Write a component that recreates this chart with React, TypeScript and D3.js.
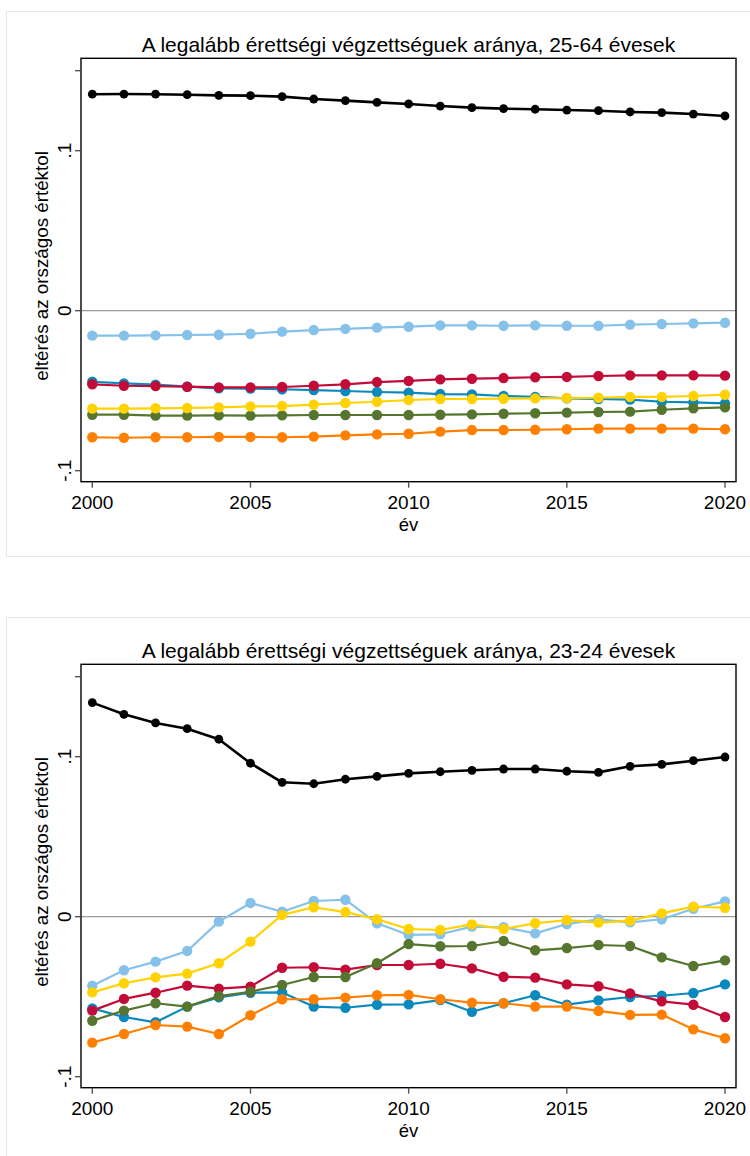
import React from 'react';
import * as d3 from 'd3';

// ---------- DATA ----------
const years = [2000, 2001, 2002, 2003, 2004, 2005, 2006, 2007, 2008, 2009, 2010, 2011, 2012, 2013, 2014, 2015, 2016, 2017, 2018, 2019, 2020];
const xTicks = [2000, 2005, 2010, 2015, 2020];
const yTickValues = [-0.1, 0, 0.1];
const yTickLabels = ['-.1', '0', '.1'];
const yExtraTicks = [0.15];

const panelTitles = [
  'A legalább érettségi végzettséguek aránya, 25-64 évesek',
  'A legalább érettségi végzettséguek aránya, 23-24 évesek',
];
const yAxisTitle = 'eltérés az országos értéktol';
const xAxisTitle = 'év';

const seriesKeys = ['black', 'lightBlue', 'teal', 'crimson', 'green', 'yellow', 'orange'];
const seriesColors = ['#000000', '#86C1EA', '#0A89BE', '#C20B37', '#56762F', '#FFD200', '#FF8000'];

// Panel 1: 25-64
const p1Black = [0.1353, 0.1354, 0.1353, 0.1350, 0.1346, 0.1344, 0.1338, 0.1323, 0.1313, 0.1302, 0.1292, 0.1279, 0.1269, 0.1263, 0.1259, 0.1254, 0.1250, 0.1242, 0.1238, 0.1229, 0.1217];
const p1LightBlue = [-0.0156, -0.0156, -0.0154, -0.0152, -0.0150, -0.0144, -0.0131, -0.0121, -0.0114, -0.0106, -0.0100, -0.0092, -0.0092, -0.0094, -0.0092, -0.0094, -0.0094, -0.0087, -0.0083, -0.0079, -0.0075];
const p1Teal = [-0.0444, -0.0454, -0.0462, -0.0475, -0.0485, -0.0487, -0.0491, -0.0496, -0.0502, -0.0508, -0.0512, -0.0521, -0.0523, -0.0533, -0.0539, -0.0548, -0.0552, -0.0556, -0.0569, -0.0573, -0.0579];
const p1Crimson = [-0.0460, -0.0469, -0.0471, -0.0475, -0.0479, -0.0479, -0.0477, -0.0469, -0.0460, -0.0446, -0.0439, -0.0429, -0.0425, -0.0421, -0.0416, -0.0414, -0.0408, -0.0404, -0.0404, -0.0404, -0.0406];
const p1Green = [-0.0650, -0.0650, -0.0656, -0.0656, -0.0654, -0.0656, -0.0654, -0.0652, -0.0652, -0.0652, -0.0652, -0.0650, -0.0648, -0.0644, -0.0641, -0.0637, -0.0633, -0.0631, -0.0619, -0.0610, -0.0604];
const p1Yellow = [-0.0612, -0.0612, -0.0610, -0.0608, -0.0604, -0.0598, -0.0596, -0.0587, -0.0577, -0.0569, -0.0558, -0.0552, -0.0552, -0.0550, -0.0548, -0.0546, -0.0544, -0.0539, -0.0539, -0.0533, -0.0525];
const p1Orange = [-0.0791, -0.0794, -0.0791, -0.0791, -0.0789, -0.0789, -0.0791, -0.0787, -0.0779, -0.0773, -0.0769, -0.0756, -0.0746, -0.0746, -0.0744, -0.0741, -0.0737, -0.0737, -0.0737, -0.0737, -0.0741];

// Panel 2: 23-24
const p2Black = [0.1338, 0.1265, 0.1211, 0.1175, 0.1109, 0.0959, 0.0840, 0.0831, 0.0859, 0.0877, 0.0896, 0.0906, 0.0915, 0.0923, 0.0923, 0.0909, 0.0902, 0.0940, 0.0952, 0.0975, 0.0998];
const p2LightBlue = [-0.0431, -0.0335, -0.0281, -0.0214, -0.0031, 0.0086, 0.0031, 0.0098, 0.0106, -0.0041, -0.0114, -0.0110, -0.0062, -0.0066, -0.0104, -0.0046, -0.0016, -0.0035, -0.0016, 0.0050, 0.0096];
const p2Teal = [-0.0573, -0.0627, -0.0660, -0.0562, -0.0504, -0.0475, -0.0473, -0.0562, -0.0569, -0.0550, -0.0548, -0.0521, -0.0594, -0.0541, -0.0491, -0.0550, -0.0523, -0.0502, -0.0494, -0.0477, -0.0423];
const p2Crimson = [-0.0587, -0.0514, -0.0475, -0.0431, -0.0450, -0.0437, -0.0319, -0.0316, -0.0331, -0.0302, -0.0302, -0.0294, -0.0323, -0.0375, -0.0381, -0.0423, -0.0435, -0.0479, -0.0529, -0.0550, -0.0627];
const p2Green = [-0.0650, -0.0587, -0.0541, -0.0562, -0.0496, -0.0469, -0.0427, -0.0377, -0.0377, -0.0291, -0.0171, -0.0185, -0.0183, -0.0152, -0.0210, -0.0196, -0.0177, -0.0183, -0.0254, -0.0308, -0.0273];
const p2Yellow = [-0.0473, -0.0416, -0.0379, -0.0356, -0.0291, -0.0156, 0.0011, 0.0059, 0.0029, -0.0016, -0.0077, -0.0083, -0.0048, -0.0077, -0.0041, -0.0021, -0.0037, -0.0025, 0.0021, 0.0063, 0.0056];
const p2Orange = [-0.0787, -0.0733, -0.0677, -0.0687, -0.0733, -0.0616, -0.0516, -0.0516, -0.0506, -0.0491, -0.0489, -0.0516, -0.0537, -0.0541, -0.0562, -0.0562, -0.0589, -0.0614, -0.0612, -0.0704, -0.0760];

const panel1Series = [p1Black, p1LightBlue, p1Teal, p1Crimson, p1Green, p1Yellow, p1Orange];
const panel2Series = [p2Black, p2LightBlue, p2Teal, p2Crimson, p2Green, p2Yellow, p2Orange];
const panelsData = [panel1Series, panel2Series];

// ---------- LAYOUT ----------
const W = 750;
const H = 1156;
const PANEL_OFFSET = 606;
const PLOT_L = 81;
const PLOT_R = 736;
const PLOT_T = 58.3;
const PLOT_B = 481.7;
const FONT = '"Liberation Sans", Arial, Helvetica, sans-serif';

const xScale = d3.scaleLinear().domain([2000, 2020]).range([92.3, 725]);
const yScale = d3.scaleLinear().domain([-0.1, 0.1]).range([470.7, 150.7]);

function Panel({ idx }: { idx: number }) {
  const series = panelsData[idx];
  const lineGen = d3
    .line<number>()
    .x((_, i) => xScale(years[i]))
    .y((d) => yScale(d));
  const midY = (PLOT_T + PLOT_B) / 2;
  const midX = (PLOT_L + PLOT_R) / 2;
  return (
    <g transform={`translate(0, ${idx * PANEL_OFFSET})`}>
      {/* graph region */}
      <rect x={6.5} y={11.5} width={760} height={545} fill="#ffffff" stroke="#e4e8ec" strokeWidth={1} />
      {/* title */}
      <text x={midX} y={51.5} textAnchor="middle" fontFamily={FONT} fontSize={21} fill="#000">
        {panelTitles[idx]}
      </text>
      {/* plot region */}
      <rect x={PLOT_L} y={PLOT_T} width={PLOT_R - PLOT_L} height={PLOT_B - PLOT_T} fill="#ffffff" />
      {/* zero line */}
      <line x1={PLOT_L} x2={PLOT_R} y1={yScale(0)} y2={yScale(0)} stroke="#9a9a9a" strokeWidth={1.2} />
      {/* series */}
      {series.map((vals, si) => (
        <g key={seriesKeys[si]}>
          <path
            d={lineGen(vals) || ''}
            fill="none"
            stroke={seriesColors[si]}
            strokeWidth={si === 0 ? 2.6 : 2.2}
            strokeLinejoin="round"
          />
          {vals.map((v, i) => (
            <circle
              key={i}
              cx={xScale(years[i])}
              cy={yScale(v)}
              r={si === 0 ? 4.4 : 5.2}
              fill={seriesColors[si]}
            />
          ))}
        </g>
      ))}
      {/* plot border */}
      <rect
        x={PLOT_L}
        y={PLOT_T}
        width={PLOT_R - PLOT_L}
        height={PLOT_B - PLOT_T}
        fill="none"
        stroke="#000"
        strokeWidth={1.4}
      />
      {/* y ticks */}
      {yTickValues.concat(yExtraTicks).map((v) => (
        <line key={`yt${v}`} x1={PLOT_L - 6} x2={PLOT_L} y1={yScale(v)} y2={yScale(v)} stroke="#555" strokeWidth={1.4} />
      ))}
      {yTickValues.map((v, i) => (
        <text
          key={`yl${v}`}
          transform={`translate(${PLOT_L - 10}, ${yScale(v)}) rotate(-90)`}
          textAnchor="middle"
          fontFamily={FONT}
          fontSize={19}
          fill="#000"
        >
          {yTickLabels[i]}
        </text>
      ))}
      {/* y axis title */}
      <text
        transform={`translate(48, ${midY - 4}) rotate(-90)`}
        textAnchor="middle"
        fontFamily={FONT}
        fontSize={18.8}
        fill="#000"
      >
        {yAxisTitle}
      </text>
      {/* x ticks */}
      {xTicks.map((t) => (
        <g key={`xt${t}`}>
          <line x1={xScale(t)} x2={xScale(t)} y1={PLOT_B} y2={PLOT_B + 6} stroke="#555" strokeWidth={1.4} />
          <text x={xScale(t)} y={PLOT_B + 27} textAnchor="middle" fontFamily={FONT} fontSize={19} fill="#000">
            {t}
          </text>
        </g>
      ))}
      {/* x axis title */}
      <text x={midX} y={PLOT_B + 49} textAnchor="middle" fontFamily={FONT} fontSize={18.5} fill="#000">
        {xAxisTitle}
      </text>
    </g>
  );
}

export default function App() {
  return (
    <svg
      width={W}
      height={H}
      viewBox={`0 0 ${W} ${H}`}
      style={{ position: 'absolute', left: 0, top: 0, background: '#ffffff' }}
    >
      <rect x={0} y={0} width={W} height={H} fill="#ffffff" />
      <Panel idx={0} />
      <Panel idx={1} />
    </svg>
  );
}
